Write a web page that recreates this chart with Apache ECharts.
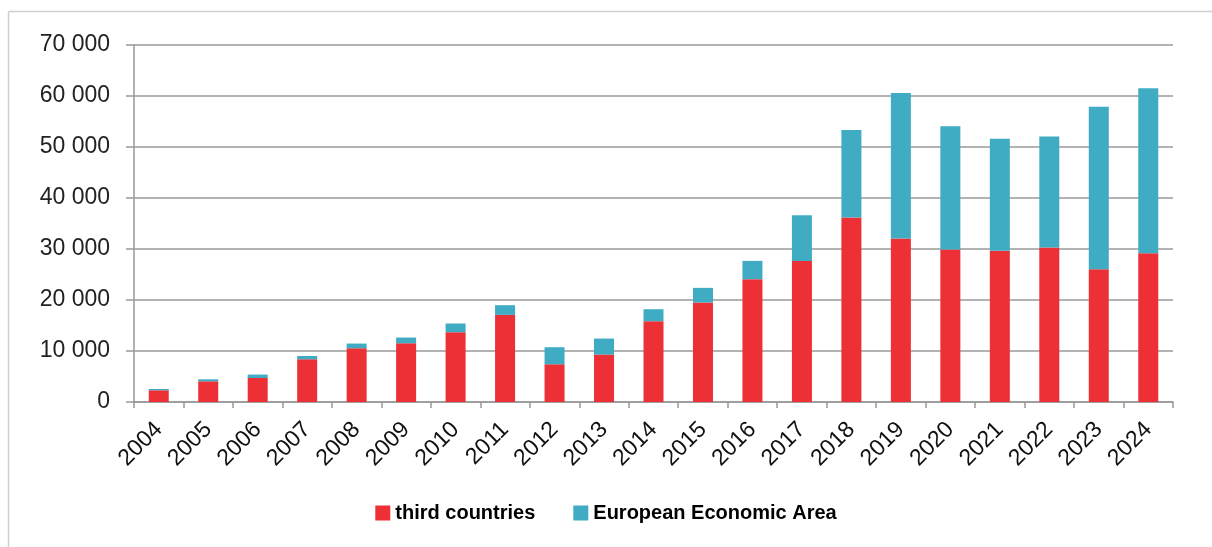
<!DOCTYPE html>
<html>
<head>
<meta charset="utf-8">
<script src="https://cdn.jsdelivr.net/npm/echarts@6/dist/echarts.min.js"></script>
<style>
html,body{margin:0;padding:0;background:#fff;}
#chart{width:1212px;height:547px;}
</style>
</head>
<body>
<div id="chart"></div>
<script>
const years = ['2004','2005','2006','2007','2008','2009','2010','2011','2012','2013','2014','2015','2016','2017','2018','2019','2020','2021','2022','2023','2024'];
const thirdCountries = [2300,4060,4710,8380,10540,11520,13680,17080,7400,9300,15840,19510,24080,27670,36190,32070,29910,29640,30300,26040,29180];
const eea = [250,390,670,650,920,1120,1710,1900,3340,3140,2350,2870,3590,8970,17140,28520,24140,21980,21780,31860,32330];
const yTicks = [0,10000,20000,30000,40000,50000,60000,70000];

const fmt = v => String(v).replace(/\B(?=(\d{3})+(?!\d))/g, ' ');
const chart = echarts.init(document.getElementById('chart'), null, {renderer:'canvas'});
const font = 'Liberation Sans';
chart.setOption({
  animation:false,
  backgroundColor:'#fff',
  textStyle:{fontFamily:font},
  graphic:[
    {type:'line', shape:{x1:8.5,y1:11.5,x2:1212,y2:11.5}, style:{stroke:'#cfcfcf',lineWidth:1.5}},
    {type:'line', shape:{x1:8.5,y1:11.5,x2:8.5,y2:547}, style:{stroke:'#cfcfcf',lineWidth:1.5}}
  ],
  grid:{left:134,right:39,top:45,bottom:145,containLabel:false},
  legend:{
    bottom:19, left:'center',
    itemWidth:15, itemHeight:15, itemGap:38,
    icon:'rect',
    textStyle:{fontFamily:font,fontSize:20,fontWeight:'bold',color:'#000'},
    data:['third countries','European Economic Area']
  },
  xAxis:{
    type:'category', data:years,
    axisLine:{lineStyle:{color:'#999',width:1.5}},
    axisTick:{show:true,length:6,lineStyle:{color:'#999',width:1.5}},
    axisLabel:{rotate:45,fontSize:23,color:'#111',margin:24,fontFamily:font,interval:0}
  },
  yAxis:{
    type:'value', min:0, max:70000, interval:10000,
    axisLine:{show:true,lineStyle:{color:'#999',width:1.5}},
    axisTick:{show:true,length:8,lineStyle:{color:'#999',width:1.5}},
    splitLine:{lineStyle:{color:'#9a9a9a',width:1.5}},
    axisLabel:{fontSize:23,color:'#222',margin:24,fontFamily:font,
      formatter:v => yTicks.includes(v) ? fmt(v) : ''}
  },
  series:[
    {name:'third countries',type:'bar',stack:'t',data:thirdCountries,barWidth:20,
     itemStyle:{color:'#ED3036'}},
    {name:'European Economic Area',type:'bar',stack:'t',data:eea,barWidth:20,
     itemStyle:{color:'#3FACC4'}}
  ]
});
</script>
</body>
</html>
